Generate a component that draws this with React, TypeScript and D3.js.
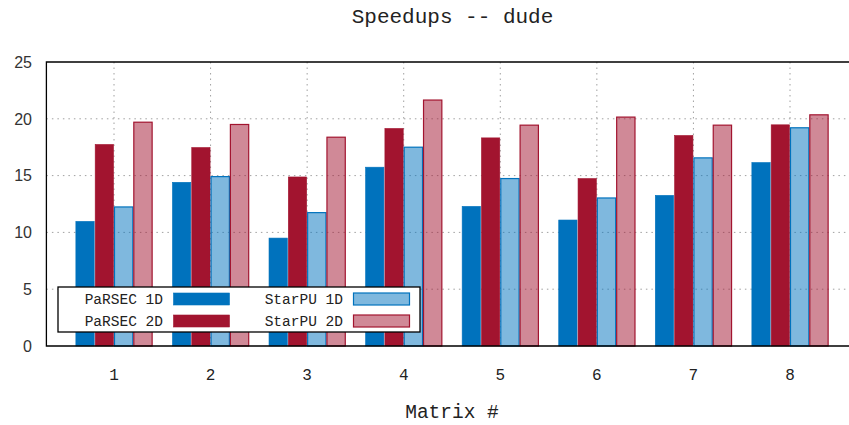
import React from "react";
import * as d3 from "d3";

const matrices = [1, 2, 3, 4, 5, 6, 7, 8];
const parsec1D = [10.97, 14.41, 9.5, 15.74, 12.29, 11.09, 13.26, 16.15];
const parsec2D = [17.74, 17.47, 14.88, 19.15, 18.32, 14.74, 18.53, 19.47];
const starpu1D = [12.24, 14.91, 11.74, 17.5, 14.74, 13.03, 16.56, 19.21];
const starpu2D = [19.7, 19.5, 18.38, 21.65, 19.44, 20.15, 19.44, 20.35];
const yTicks = [0, 5, 10, 15, 20, 25];

const BLUE = "#0072bd";
const RED = "#a2142f";

const seriesList = [
  { name: "PaRSEC 1D", values: parsec1D, fill: BLUE, opacity: 1, stroke: BLUE, offset: -0.3 },
  { name: "PaRSEC 2D", values: parsec2D, fill: RED, opacity: 1, stroke: RED, offset: -0.1 },
  { name: "StarPU 1D", values: starpu1D, fill: BLUE, opacity: 0.5, stroke: BLUE, offset: 0.1 },
  { name: "StarPU 2D", values: starpu2D, fill: RED, opacity: 0.5, stroke: RED, offset: 0.3 },
];

export default function App() {
  const W = 849, H = 425;
  const left = 46.4, right = 857.6, top = 62, bottom = 346;
  const x = d3.scaleLinear().domain([0.3, 8.7]).range([left, right]);
  const y = d3.scaleLinear().domain([0, 25]).range([bottom, top]);
  const bw = x(0.2) - x(0);
  const mono = "'Liberation Mono', 'Courier New', monospace";
  const sans = "'Liberation Sans', Arial, sans-serif";
  const legendItems = [
    { s: seriesList[0], tx: 163, sx: 173, cy: 299 },
    { s: seriesList[1], tx: 163, sx: 173, cy: 321 },
    { s: seriesList[2], tx: 343, sx: 353, cy: 299 },
    { s: seriesList[3], tx: 343, sx: 353, cy: 321 },
  ];
  return (
    <div style={{ position: "fixed", left: 0, top: 0 }}>
      <svg width={W} height={H} style={{ display: "block", background: "#fff" }}>
        <rect x={0} y={0} width={W} height={H} fill="#fff" />
        <text x={452.5} y={23} textAnchor="middle" fontFamily={mono} fontSize={21} fill="#222">
          Speedups -- dude
        </text>
        {/* grid */}
        {yTicks.filter((t) => t > 0 && t < 25).map((t) => (
          <line key={"gy" + t} x1={left} x2={right} y1={y(t)} y2={y(t)} stroke="#a0a0a0" strokeWidth={1} strokeDasharray="1.5,4" />
        ))}
        {matrices.map((m) => (
          <line key={"gx" + m} x1={x(m)} x2={x(m)} y1={top} y2={bottom} stroke="#a0a0a0" strokeWidth={1} strokeDasharray="1.5,4" />
        ))}
        {/* bars */}
        {seriesList.map((s) => (
          <g key={s.name}>
            {s.values.map((v, i) => {
              const x0 = x(matrices[i] + s.offset - 0.1);
              return (
                <rect
                  key={i}
                  x={x0 + 0.5}
                  y={y(v)}
                  width={bw - 1}
                  height={bottom - y(v)}
                  fill={s.fill}
                  fillOpacity={s.opacity}
                  stroke={s.stroke}
                  strokeWidth={s.opacity < 1 ? 1.2 : 0.6}
                />
              );
            })}
          </g>
        ))}
        {/* axes border */}
        <path d={`M${right},${top}H${left}V${bottom}H${right}`} fill="none" stroke="#000" strokeWidth={1.3} />
        {yTicks.map((t) => (
          <text key={"yt" + t} x={32} y={y(t)} dy="0.36em" textAnchor="end" fontFamily={sans} fontSize={16} fill="#333">
            {t}
          </text>
        ))}
        {matrices.map((m) => (
          <text key={"xt" + m} x={x(m)} y={380} textAnchor="middle" fontFamily={mono} fontSize={16} fill="#222">
            {m}
          </text>
        ))}
        <text x={452} y={418} textAnchor="middle" fontFamily={mono} fontSize={19.5} fill="#222">
          Matrix #
        </text>
        {/* legend */}
        <rect x={58} y={287} width={362} height={45} fill="#fff" stroke="#000" strokeWidth={1.3} />
        {legendItems.map((it) => (
          <g key={it.s.name}>
            <text x={it.tx} y={it.cy} dy="0.35em" textAnchor="end" fontFamily={mono} fontSize={14.5} fill="#222">
              {it.s.name}
            </text>
            <rect
              x={it.sx + 0.5}
              y={it.cy - 6}
              width={56}
              height={12}
              fill={it.s.fill}
              fillOpacity={it.s.opacity}
              stroke={it.s.stroke}
              strokeWidth={it.s.opacity < 1 ? 1.2 : 0.6}
            />
          </g>
        ))}
      </svg>
    </div>
  );
}
